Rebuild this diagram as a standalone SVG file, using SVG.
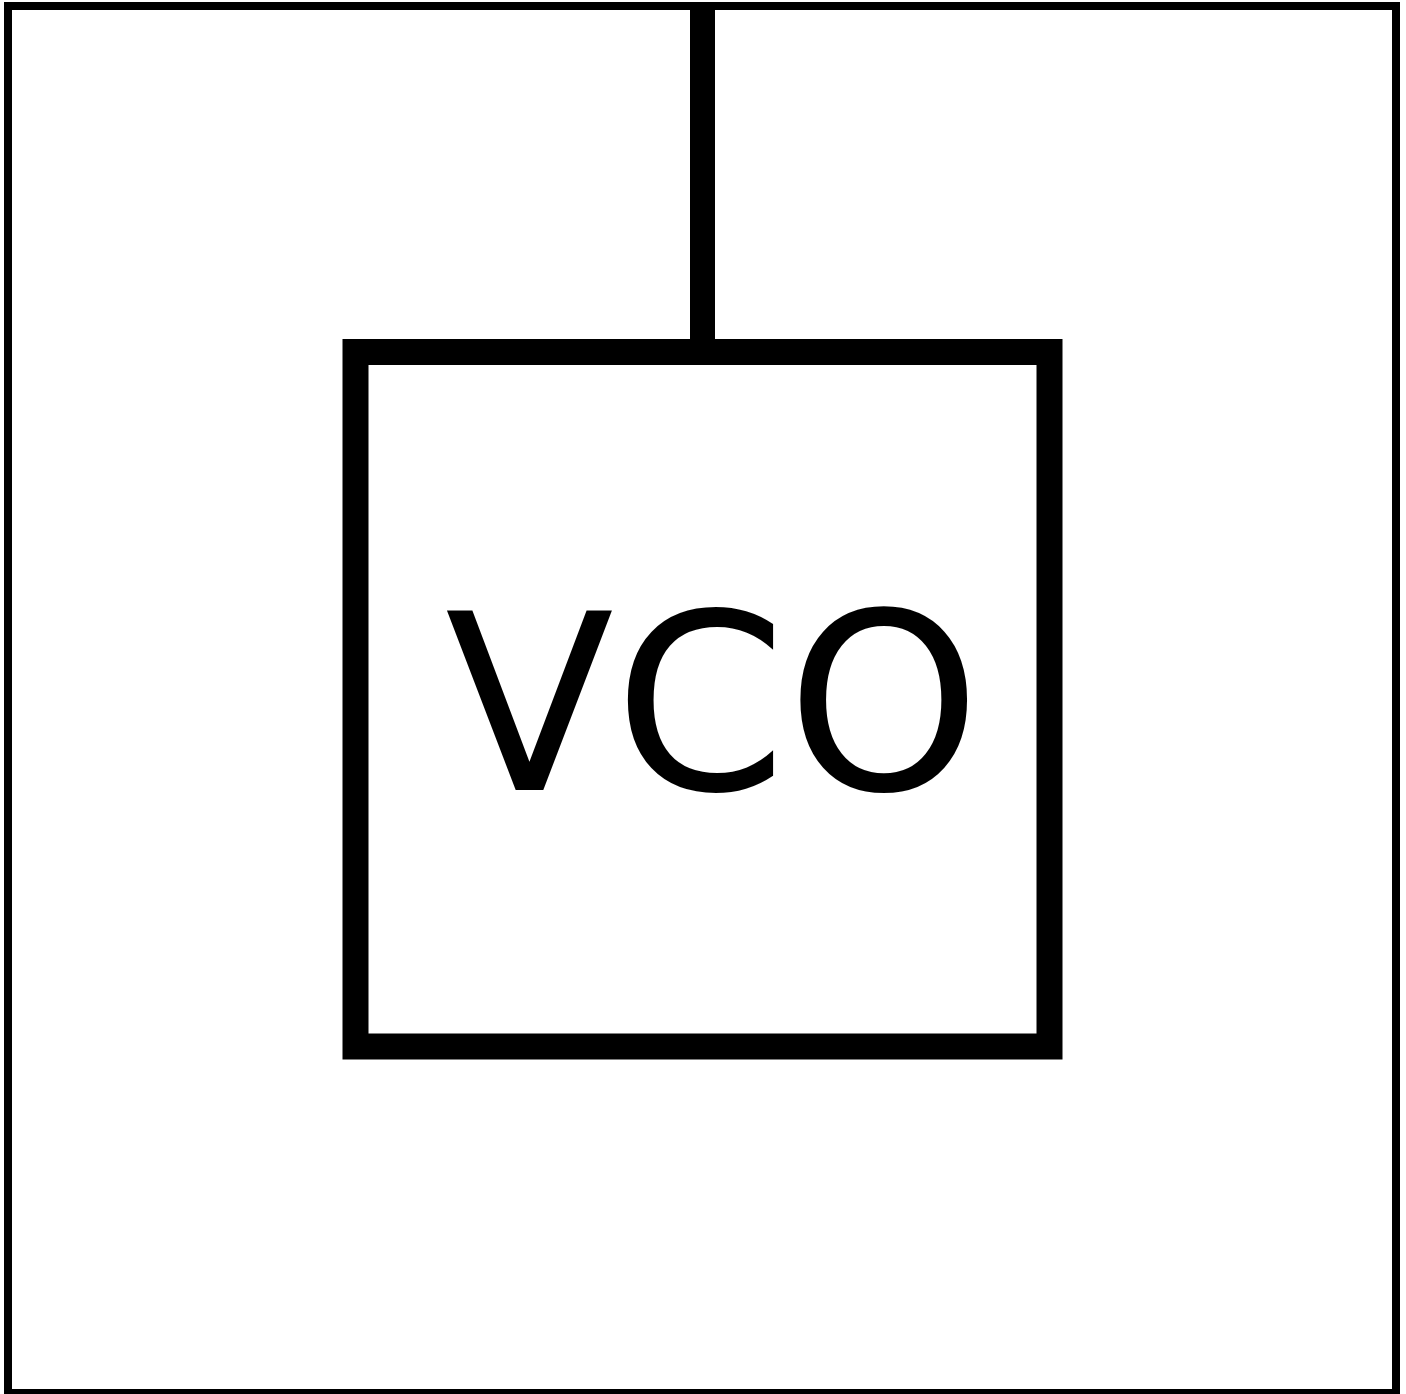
<svg xmlns="http://www.w3.org/2000/svg" width="1406" height="1394" viewBox="0 0 1406 1394">
<style>
.frame{fill:none;stroke:#000;stroke-width:8}
.box{fill:#fff;stroke:#000;stroke-width:26}
.wire{stroke:#000;stroke-width:25;fill:none}
.lbl{font-family:"DejaVu Sans",sans-serif;font-size:247px;fill:#000}
</style>
<rect width="1406" height="1394" fill="#fff"/>
<g id="frame"><rect class="frame" x="8" y="6" width="1388" height="1387"/></g>
<g id="connectors"><line class="wire" x1="702.5" y1="6" x2="702.5" y2="352"/></g>
<g id="vco">
<rect class="box" x="355.5" y="352" width="694" height="694.5"/>
<text class="lbl" x="445" y="790">VCO</text>
</g>
</svg>
